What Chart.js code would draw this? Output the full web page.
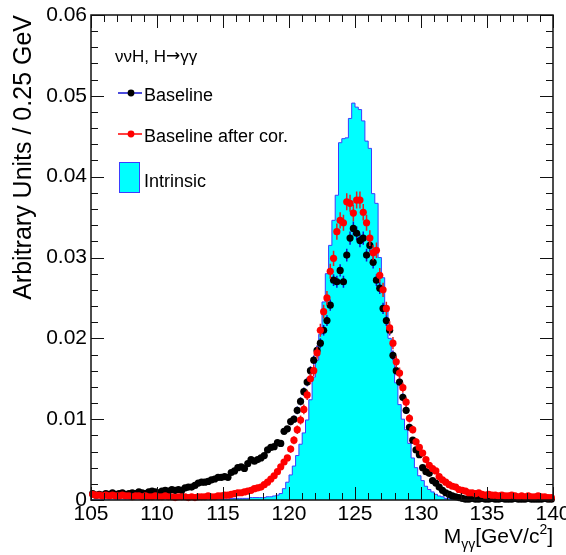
<!DOCTYPE html>
<html>
<head>
<meta charset="utf-8">
<script src="https://cdn.jsdelivr.net/npm/chart.js@4.4.1/dist/chart.umd.min.js"></script>
<style>
  html, body { margin: 0; padding: 0; background: #fff; }
  #wrap { width: 566px; height: 555px; }
</style>
</head>
<body>
<div id="wrap"><canvas id="massChart" width="566" height="555"></canvas></div>
<script>
// M(gamma gamma) histogram, 0.25 GeV bins from 105 to 140
var xMin = 105;
var xMax = 140;
var binWidth = 0.25;

var xTicks = [105, 110, 115, 120, 125, 130, 135, 140];
var xTickLabels = ['105', '110', '115', '120', '125', '130', '135', '140'];
var yTicks = [0, 0.01, 0.02, 0.03, 0.04, 0.05, 0.06];
var yTickLabels = ['0', '0.01', '0.02', '0.03', '0.04', '0.05', '0.06'];

var legendHeader = ['ννH, H', '→', 'γγ'];
var seriesNames = ['Baseline', 'Baseline after cor.', 'Intrinsic'];

// generator-level (intrinsic) resolution, one value per bin
var intrinsic = [
  0, 0, 0, 0, 0, 0, 0, 0, 0, 0,
  0, 0, 0, 0, 0, 0, 0, 0, 0, 0,
  0, 0, 0, 0, 0, 0, 0, 0, 0, 0,
  0, 0, 0, 0, 0, 0, 0, 0, 0.0001, 0.0001,
  0.0001, 0.0001, 0.0002, 0.0002, 0.0002, 0.0002, 0.0002, 0.0002, 0.0003, 0.0003,
  0.0003, 0.0003, 0.0003, 0.0004, 0.0004, 0.0005, 0.0006, 0.0008, 0.0014, 0.0022,
  0.0031, 0.0042, 0.0055, 0.0069, 0.0083, 0.0099, 0.0124, 0.0152, 0.0173, 0.0205,
  0.0245, 0.0280, 0.0315, 0.0346, 0.0377, 0.0442, 0.0447, 0.0448, 0.0472, 0.0491,
  0.0486, 0.0483, 0.0469, 0.0444, 0.0435, 0.0379, 0.0367, 0.0300, 0.0275, 0.0235,
  0.0200, 0.0175, 0.0145, 0.0118, 0.0100, 0.0087, 0.0070, 0.0052, 0.0040, 0.0030,
  0.0024, 0.0017, 0.0013, 0.0010, 0.0007, 0.0005, 0.0004, 0.0002, 0.0002, 0.0001,
  0.0001, 0, 0, 0, 0, 0, 0, 0, 0, 0,
  0, 0, 0, 0, 0, 0, 0, 0, 0, 0,
  0, 0, 0, 0, 0, 0, 0, 0, 0, 0
];

// reconstructed with the baseline photon energy
var baseline = [
  0.0008, 0.0006, 0.0007, 0.0006, 0.0008, 0.0007, 0.0009, 0.0007, 0.0008, 0.0009,
  0.0007, 0.0008, 0.0009, 0.0008, 0.0010, 0.0009, 0.0008, 0.0010, 0.0011, 0.0010,
  0.0009, 0.0011, 0.0012, 0.0011, 0.0013, 0.0012, 0.0013, 0.0012, 0.0015, 0.0016,
  0.0016, 0.0018, 0.0021, 0.0022, 0.0022, 0.0023, 0.0025, 0.0026, 0.0028, 0.0028,
  0.0029, 0.0028, 0.0034, 0.0036, 0.0040, 0.0041, 0.0039, 0.0045, 0.0050, 0.0048,
  0.0050, 0.0052, 0.0055, 0.0062, 0.0065, 0.0066, 0.0071, 0.0070, 0.0085, 0.0088,
  0.0097, 0.0100, 0.0111, 0.0122, 0.0134, 0.0146, 0.0160, 0.0173, 0.0185, 0.0194,
  0.0210, 0.0222, 0.0241, 0.0272, 0.0270, 0.0284, 0.0270, 0.0303, 0.0324, 0.0336,
  0.0330, 0.0321, 0.0324, 0.0303, 0.0315, 0.0294, 0.0272, 0.0262, 0.0237, 0.0222,
  0.0210, 0.0179, 0.0160, 0.0146, 0.0127, 0.0111, 0.0090, 0.0074, 0.0062, 0.0056,
  0.0040, 0.0035, 0.0033, 0.0024, 0.0021, 0.0016, 0.0012, 0.0009, 0.0007, 0.0005,
  0.0004, 0.0003, 0.0002, 0.0001, 0.0001, 0.0002, 0.0001, 0.0001, 0.0002, 0.0001,
  0.0001, 0.0002, 0.0001, 0.0001, 0.0002, 0.0001, 0.0001, 0.0001, 0.0002, 0.0001,
  0.0001, 0.0001, 0.0002, 0.0001, 0.0001, 0.0001, 0.0001, 0.0002, 0.0001, 0.0001
];

// same events after the energy correction
var corrected = [
  0.0007, 0.0006, 0.0006, 0.0005, 0.0006, 0.0005, 0.0006, 0.0005, 0.0005, 0.0006,
  0.0005, 0.0005, 0.0004, 0.0005, 0.0005, 0.0004, 0.0005, 0.0004, 0.0004, 0.0005,
  0.0004, 0.0004, 0.0005, 0.0004, 0.0004, 0.0003, 0.0004, 0.0004, 0.0004, 0.0003,
  0.0004, 0.0003, 0.0004, 0.0004, 0.0004, 0.0005, 0.0004, 0.0004, 0.0005, 0.0005,
  0.0006, 0.0006, 0.0007, 0.0008, 0.0009, 0.0009, 0.0010, 0.0011, 0.0012, 0.0014,
  0.0015, 0.0016, 0.0019, 0.0022, 0.0026, 0.0030, 0.0035, 0.0041, 0.0047, 0.0052,
  0.0063, 0.0074, 0.0087, 0.0099, 0.0112, 0.0130, 0.0150, 0.0160, 0.0182, 0.0210,
  0.0233, 0.0250, 0.0283, 0.0299, 0.0332, 0.0346, 0.0343, 0.0369, 0.0367, 0.0355,
  0.0371, 0.0371, 0.0356, 0.0343, 0.0324, 0.0306, 0.0309, 0.0278, 0.0260, 0.0237,
  0.0213, 0.0194, 0.0171, 0.0157, 0.0139, 0.0121, 0.0101, 0.0087, 0.0072, 0.0065,
  0.0058, 0.0050, 0.0043, 0.0039, 0.0036, 0.0029, 0.0025, 0.0022, 0.0019, 0.0017,
  0.0016, 0.0013, 0.0012, 0.0011, 0.0009, 0.0009, 0.0008, 0.0009, 0.0007, 0.0006,
  0.0007, 0.0006, 0.0006, 0.0005, 0.0006, 0.0005, 0.0005, 0.0006, 0.0005, 0.0004,
  0.0005, 0.0004, 0.0005, 0.0004, 0.0004, 0.0005, 0.0004, 0.0004, 0.0003, 0.0003
];

// stat. errors, only where they stick out of the markers (bins 60..99)
var errFirstBin = 60;
var baselineErr = [
  0.00045, 0.00045, 0.00048, 0.00050, 0.00052, 0.00054, 0.00056, 0.00058, 0.00060, 0.00062,
  0.00065, 0.00067, 0.00070, 0.00074, 0.00074, 0.00076, 0.00074, 0.00078, 0.00082, 0.00084,
  0.00083, 0.00082, 0.00082, 0.00078, 0.00080, 0.00077, 0.00074, 0.00073, 0.00069, 0.00067,
  0.00065, 0.00060, 0.00057, 0.00054, 0.00050, 0.00047, 0.00043, 0.00040, 0.00037, 0.00035
];
var correctedErr = [
  0.00045, 0.00050, 0.00053, 0.00056, 0.00060, 0.00064, 0.00068, 0.00070, 0.00074, 0.00080,
  0.00084, 0.00087, 0.00092, 0.00095, 0.00100, 0.00100, 0.00100, 0.00105, 0.00105, 0.00103,
  0.00105, 0.00105, 0.00103, 0.00100, 0.00098, 0.00095, 0.00096, 0.00090, 0.00088, 0.00084,
  0.00080, 0.00076, 0.00072, 0.00068, 0.00064, 0.00058, 0.00052, 0.00048, 0.00043, 0.00040
];

var FONT = "'Liberation Sans', Arial, Helvetica, sans-serif";
var CYAN = '#00ffff';
var HIST_LINE = '#3b3bff';
var BLUE = '#1010d0';
var RED = '#ff0000';

// histogram outline: one point per lower bin edge, plus the upper edge
var histPoints = [];
for (var k = 0; k < intrinsic.length; k++) {
  histPoints.push({x: xMin + k * binWidth, y: intrinsic[k]});
}
histPoints.push({x: xMax, y: intrinsic[intrinsic.length - 1]});

function binPoints(values) {
  var pts = [];
  for (var i = 0; i < values.length; i++) {
    pts.push({x: xMin + (i + 0.5) * binWidth, y: values[i]});
  }
  return pts;
}

// vertical error bars drawn under each marker set
var errorBars = {
  id: 'errorBars',
  beforeDatasetDraw: function(chart, args) {
    var ds = chart.data.datasets[args.index];
    if (!ds.errors) return;
    var ctx = chart.ctx;
    var ys = chart.scales.y;
    ctx.save();
    ctx.strokeStyle = ds.errorColor;
    ctx.lineWidth = 1.5;
    ctx.beginPath();
    for (var i = 0; i < ds.errors.length; i++) {
      var bin = ds.errorFrom + i;
      var el = args.meta.data[bin];
      var v = ds.data[bin].y;
      ctx.moveTo(el.x, ys.getPixelForValue(v + ds.errors[i]));
      ctx.lineTo(el.x, ys.getPixelForValue(v - ds.errors[i]));
    }
    ctx.stroke();
    ctx.restore();
  }
};

// ROOT style frame with ticks pointing inwards on all four sides
var frame = {
  id: 'frame',
  afterDatasetsDraw: function(chart) {
    var ctx = chart.ctx;
    var a = chart.chartArea;
    var xs = chart.scales.x;
    var ys = chart.scales.y;
    ctx.save();
    ctx.strokeStyle = '#111';
    ctx.lineWidth = 1.5;
    ctx.strokeRect(a.left, a.top, a.right - a.left, a.bottom - a.top);

    ctx.lineWidth = 1;
    ctx.beginPath();
    var i, j, v, p, len;
    for (i = 0; i < xTicks.length; i++) {
      for (j = 0; j < 5; j++) {
        if (i === xTicks.length - 1 && j > 0) break;
        v = xTicks[i] + j * (xTicks[1] - xTicks[0]) / 5;
        p = Math.round(xs.getPixelForValue(v)) + 0.5;
        len = j === 0 ? 13 : 7;
        ctx.moveTo(p, a.bottom); ctx.lineTo(p, a.bottom - len);
        ctx.moveTo(p, a.top); ctx.lineTo(p, a.top + len);
      }
    }
    for (i = 0; i < yTicks.length; i++) {
      for (j = 0; j < 5; j++) {
        if (i === yTicks.length - 1 && j > 0) break;
        v = yTicks[i] + j * (yTicks[1] - yTicks[0]) / 5;
        p = Math.round(ys.getPixelForValue(v)) + 0.5;
        len = j === 0 ? 13 : 7;
        ctx.moveTo(a.left, p); ctx.lineTo(a.left + len, p);
        ctx.moveTo(a.right, p); ctx.lineTo(a.right - len, p);
      }
    }
    ctx.stroke();
    ctx.restore();
  }
};

// draws a run of text pieces side by side, each with its own font and shift
function drawPieces(ctx, pieces, x, base) {
  for (var n = 0; n < pieces.length; n++) {
    ctx.font = pieces[n].f;
    ctx.fillText(pieces[n].t, x, base + (pieces[n].dy || 0));
    x += ctx.measureText(pieces[n].t).width;
  }
  return x;
}

// legend box in the upper left corner plus the x axis title with sub/superscripts
var annotations = {
  id: 'annotations',
  afterDraw: function(chart) {
    var ctx = chart.ctx;
    ctx.save();
    ctx.fillStyle = '#000';
    ctx.textBaseline = 'alphabetic';
    ctx.textAlign = 'left';

    drawPieces(ctx, [
      {t: legendHeader[0], f: '17px ' + FONT},
      {t: legendHeader[1], f: "17px 'DejaVu Sans', sans-serif", dy: -1},
      {t: legendHeader[2], f: '17px ' + FONT}
    ], 115, 62);

    ctx.font = '18px ' + FONT;
    // Baseline: blue line, black marker
    ctx.strokeStyle = BLUE;
    ctx.lineWidth = 1.5;
    ctx.beginPath(); ctx.moveTo(118, 93); ctx.lineTo(142, 93); ctx.stroke();
    ctx.beginPath(); ctx.arc(131, 93, 3.4, 0, Math.PI * 2); ctx.fillStyle = '#000'; ctx.fill();
    ctx.fillText(seriesNames[0], 144, 101);

    // corrected: red line, red marker
    ctx.strokeStyle = RED;
    ctx.beginPath(); ctx.moveTo(118, 134); ctx.lineTo(142, 134); ctx.stroke();
    ctx.beginPath(); ctx.arc(131, 134, 3.4, 0, Math.PI * 2); ctx.fillStyle = RED; ctx.fill();
    ctx.fillStyle = '#000';
    ctx.fillText(seriesNames[1], 144, 142);

    // intrinsic: filled box
    ctx.fillStyle = CYAN;
    ctx.fillRect(119, 162, 20, 30);
    ctx.strokeStyle = HIST_LINE;
    ctx.lineWidth = 1;
    ctx.strokeRect(119.5, 162.5, 20, 30);
    ctx.fillStyle = '#000';
    ctx.fillText(seriesNames[2], 144, 187);

    // x axis title: M_{gamma gamma}[GeV/c^2], right aligned to the frame
    var big = '21px ' + FONT;
    var small = '14px ' + FONT;
    var parts = [
      {t: 'M', f: big},
      {t: 'γγ', f: small, dy: 6},
      {t: '[GeV/c', f: big},
      {t: '2', f: small, dy: -9},
      {t: ']', f: big}
    ];
    var total = 0;
    for (var n = 0; n < parts.length; n++) {
      ctx.font = parts[n].f;
      total += ctx.measureText(parts[n].t).width;
    }
    drawPieces(ctx, parts, 553 - total, 543);
    ctx.restore();
  }
};

new Chart(document.getElementById('massChart'), {
  type: 'scatter',
  data: {
    datasets: [{
      label: seriesNames[1],
      data: binPoints(corrected),
      pointRadius: 3.6,
      pointBorderWidth: 0,
      pointBackgroundColor: RED,
      showLine: false,
      clip: false,
      errors: correctedErr,
      errorFrom: errFirstBin,
      errorColor: '#e02020',
      order: 0
    }, {
      label: seriesNames[0],
      data: binPoints(baseline),
      pointRadius: 3.6,
      pointBorderWidth: 0,
      pointBackgroundColor: '#000',
      showLine: false,
      clip: false,
      errors: baselineErr,
      errorFrom: errFirstBin,
      errorColor: BLUE,
      order: 1
    }, {
      type: 'line',
      label: seriesNames[2],
      data: histPoints,
      stepped: 'before',
      borderColor: HIST_LINE,
      borderWidth: 1,
      backgroundColor: CYAN,
      fill: 'origin',
      pointRadius: 0,
      order: 2
    }]
  },
  options: {
    responsive: false,
    animation: false,
    events: [],
    layout: {
      autoPadding: false,
      padding: {left: 0, right: 13, top: 15, bottom: 0}
    },
    plugins: {
      legend: {display: false},
      tooltip: {enabled: false}
    },
    scales: {
      x: {
        type: 'linear',
        min: xMin,
        max: xMax,
        afterBuildTicks: function(scale) {
          scale.ticks = xTicks.map(function(v) { return {value: v}; });
        },
        afterFit: function(scale) {
          // keep the end labels from shrinking the plot area
          scale.height = 55;
          scale.paddingLeft = 0;
          scale.paddingRight = 0;
        },
        grid: {display: false, drawTicks: false},
        border: {display: false},
        ticks: {
          padding: 2,
          maxRotation: 0,
          autoSkip: false,
          color: '#000',
          font: {family: FONT, size: 21},
          callback: function(value, index) { return xTickLabels[index]; }
        }
      },
      y: {
        type: 'linear',
        min: 0,
        max: 0.06,
        afterBuildTicks: function(scale) {
          scale.ticks = yTicks.map(function(v) { return {value: v}; });
        },
        afterFit: function(scale) {
          scale.width = 91;
          scale.paddingTop = 0;
          scale.paddingBottom = 0;
        },
        grid: {display: false, drawTicks: false},
        border: {display: false},
        ticks: {
          padding: 4,
          autoSkip: false,
          color: '#000',
          font: {family: FONT, size: 21},
          callback: function(value, index) { return yTickLabels[index]; }
        },
        title: {
          display: true,
          text: 'Arbitrary Units / 0.25 GeV',
          align: 'end',
          color: '#000',
          font: {family: FONT, size: 25},
          padding: {top: 9, bottom: 0}
        }
      }
    }
  },
  plugins: [errorBars, frame, annotations]
});
</script>
</body>
</html>
